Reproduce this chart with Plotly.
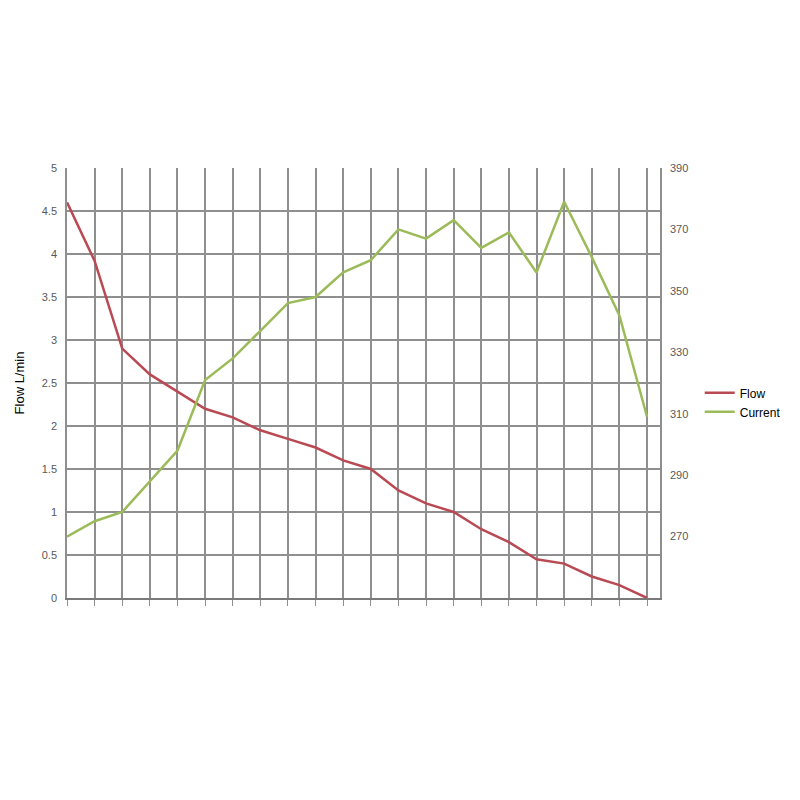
import plotly.graph_objects as go

points = list(range(22))
flow = [4.6, 3.92, 2.9, 2.6, 2.4, 2.2, 2.1, 1.95, 1.85, 1.75, 1.6, 1.5,
        1.25, 1.1, 1.0, 0.8, 0.65, 0.45, 0.4, 0.25, 0.15, 0.0]
current = [270, 275, 278, 288, 298, 321, 328, 337, 346, 348, 356, 360,
           370, 367, 373, 364, 369, 356, 379, 361, 342, 309]
left_ticks = [0, 0.5, 1, 1.5, 2, 2.5, 3, 3.5, 4, 4.5, 5]
left_labels = ["0", "0.5", "1", "1.5", "2", "2.5", "3", "3.5", "4", "4.5", "5"]
right_ticks = [270, 290, 310, 330, 350, 370, 390]

grid = "#8f8f8f"
tickfont = dict(family="Liberation Sans, Arial, sans-serif", size=11, color="#595959")

fig = go.Figure()
fig.add_trace(go.Scatter(x=points, y=flow, name="Flow", mode="lines",
                         line=dict(color="#b94a53", width=2.5)))
fig.add_trace(go.Scatter(x=points, y=current, name="Current", mode="lines",
                         line=dict(color="#9bbb59", width=2.5), yaxis="y2"))

fig.update_layout(
    width=800, height=800,
    paper_bgcolor="white", plot_bgcolor="white",
    margin=dict(l=59, r=148, t=160, b=210),
    font=dict(family="Liberation Sans, Arial, sans-serif", color="#000"),
    xaxis=dict(range=[0, 21.47], tickvals=points, showticklabels=False,
               showgrid=True, gridcolor=grid, gridwidth=1.5,
               ticks="outside", ticklen=6, tickcolor=grid,
               showline=True, linecolor="#7a7a7a", linewidth=1.5, zeroline=False),
    yaxis=dict(range=[0, 5], tickvals=left_ticks, ticktext=left_labels,
               showgrid=True, gridcolor=grid, gridwidth=1.5, zeroline=False,
               showline=True, linecolor=grid, linewidth=1.5, automargin=False,
               tickfont=tickfont, ticks="", ticklabelstandoff=6,
               title=dict(text="Flow L/min", font=dict(size=13, color="#000"), standoff=14)),
    yaxis2=dict(range=[250, 390], tickvals=right_ticks, overlaying="y", side="right",
                showgrid=False, zeroline=False, tickfont=tickfont, automargin=False,
                showline=True, linecolor=grid, linewidth=1.5, ticklabelstandoff=6),
    legend=dict(x=1.067, y=0.455, xanchor="left", yanchor="middle",
                font=dict(size=12, color="#000"), bgcolor="rgba(0,0,0,0)",
                itemwidth=30, tracegroupgap=4),
    showlegend=True,
)

fig.write_html("out.html")
